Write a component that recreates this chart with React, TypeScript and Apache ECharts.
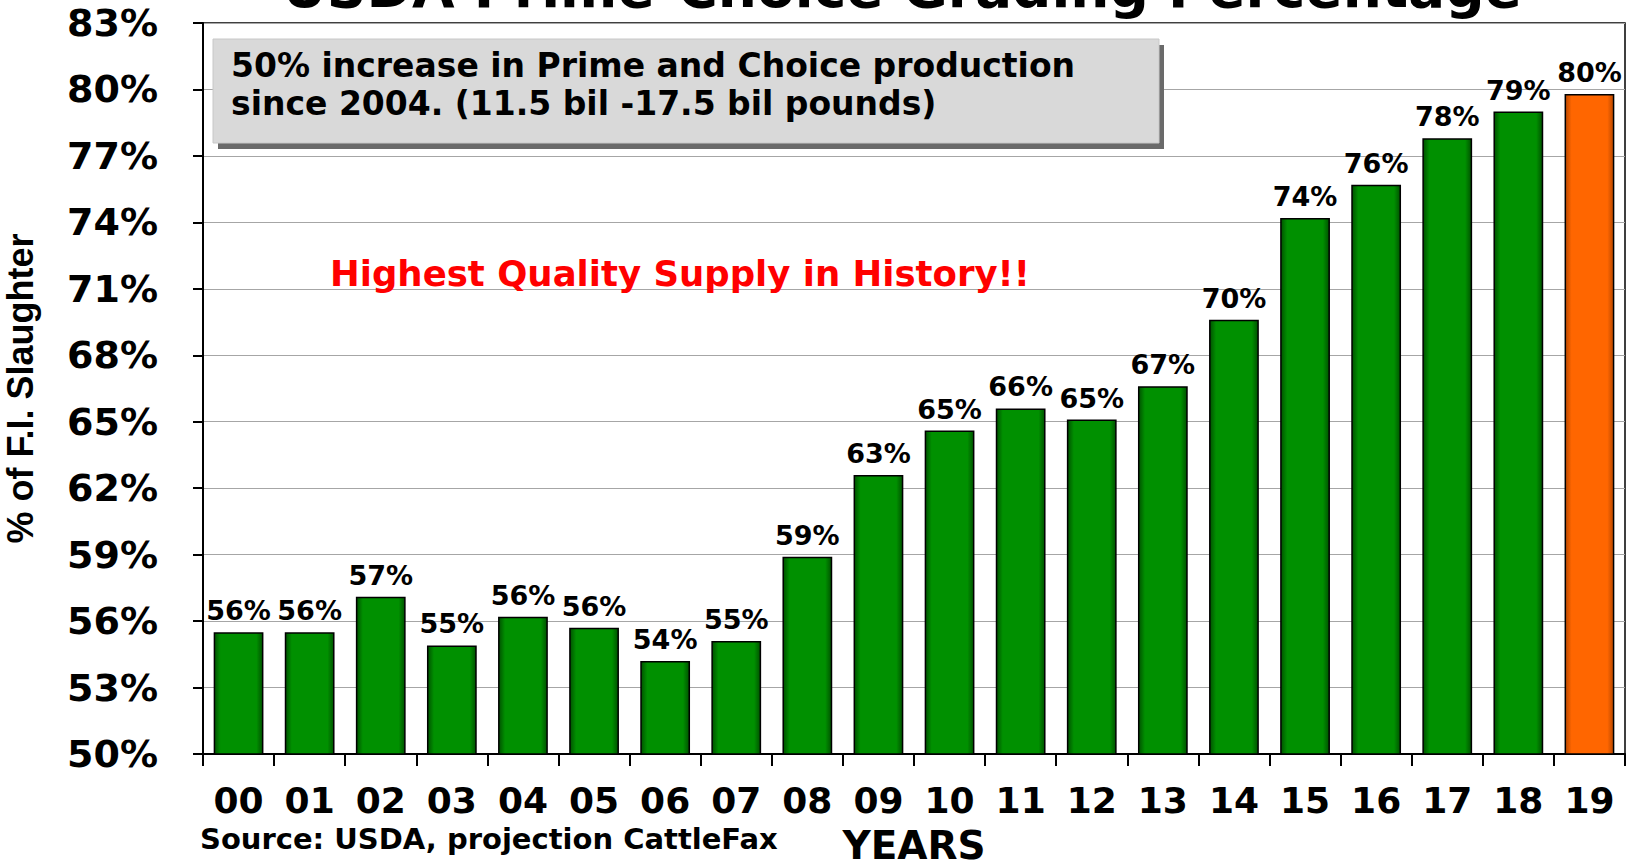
import React, { useEffect, useRef } from "react";
import * as echarts from "echarts";

const years = ["00", "01", "02", "03", "04", "05", "06", "07", "08", "09", "10", "11", "12", "13", "14", "15", "16", "17", "18", "19"];
const gradingPct = [55.5, 55.5, 57.1, 54.9, 56.2, 55.7, 54.2, 55.1, 58.9, 62.6, 64.6, 65.6, 65.1, 66.6, 69.6, 74.2, 75.7, 77.8, 79.0, 79.8];
const isProjection = [false, false, false, false, false, false, false, false, false, false, false, false, false, false, false, false, false, false, false, true];
const yMin = 50;
const yMax = 83;
const yStep = 3;

const titleText = "USDA Prime-Choice Grading Percentage";
const noteLines = ["50% increase in Prime and Choice production", "since 2004. (11.5 bil -17.5 bil pounds)"];
const highlightText = "Highest Quality Supply in History!!";
const sourceText = "Source: USDA, projection CattleFax";
const yAxisTitle = "% of F.I. Slaughter";
const xAxisTitle = "YEARS";

const FONT = "'DejaVu Sans', sans-serif";

function barFill(proj: boolean) {
  const edge = proj ? "#b84800" : "#005200";
  const mid = proj ? "#ff6600" : "#009000";
  return new echarts.graphic.LinearGradient(0, 0, 1, 0, [
    { offset: 0, color: edge },
    { offset: 0.13, color: mid },
    { offset: 0.87, color: mid },
    { offset: 1, color: edge },
  ]);
}

export default function App() {
  const ref = useRef<HTMLDivElement>(null);
  useEffect(() => {
    if (!ref.current) return;
    const chart = echarts.init(ref.current, null, { renderer: "svg" });
    chart.setOption({
      animation: false,
      backgroundColor: "#ffffff",
      grid: {
        left: 203,
        right: 5,
        top: 23,
        bottom: 114,
        outerBoundsMode: "none",
        containLabel: false,
        show: true,
        borderColor: "#000",
        borderWidth: 1.5,
        backgroundColor: "transparent",
      },
      xAxis: {
        type: "category",
        data: years,
        boundaryGap: true,
        axisLine: { lineStyle: { color: "#000", width: 2 } },
        axisTick: { show: true, length: 12, lineStyle: { color: "#000", width: 2 } },
        axisLabel: {
          color: "#000",
          fontFamily: FONT,
          fontWeight: "bold",
          fontSize: 36,
          margin: 28,
        },
        name: xAxisTitle,
        nameLocation: "middle",
        nameGap: 72,
        nameTextStyle: { color: "#000", fontFamily: FONT, fontWeight: "bold", fontSize: 39 },
      },
      yAxis: {
        type: "value",
        min: yMin,
        max: yMax,
        interval: yStep,
        axisLine: { show: true, lineStyle: { color: "#000", width: 2 } },
        axisTick: { show: true, length: 10, lineStyle: { color: "#000", width: 2 } },
        splitLine: { show: true, lineStyle: { color: "#a6a6a6", width: 1.2 } },
        axisLabel: {
          color: "#000",
          fontFamily: FONT,
          fontWeight: "bold",
          fontSize: 38,
          margin: 45,
          formatter: (v: number) => `${v}%`,
        },
        name: yAxisTitle,
        nameLocation: "middle",
        nameRotate: 90,
        nameGap: 165,
        nameTextStyle: { color: "#000", fontFamily: "'Liberation Sans', Arial, sans-serif", fontWeight: "bold", fontSize: 36 },
      },
      series: [
        {
          type: "bar",
          barWidth: "70%",
          data: gradingPct.map((v, i) => ({
            value: v,
            itemStyle: { color: barFill(isProjection[i]) },
          })),
          itemStyle: { borderColor: "#000", borderWidth: 1.5 },
          label: {
            show: true,
            position: "top",
            distance: 8,
            color: "#000",
            fontFamily: FONT,
            fontWeight: "bold",
            fontSize: 27,
            formatter: (p: any) => `${Math.round(p.value)}%`,
          },
        },
      ],
      graphic: [
        {
          type: "text",
          x: 902,
          y: -12,
          style: {
            text: titleText,
            fontFamily: FONT,
            fontWeight: "bold",
            fontSize: 55,
            fill: "#000",
            align: "center",
            verticalAlign: "middle",
          },
        },
        {
          type: "rect",
          shape: { x: 218, y: 45, width: 946, height: 104 },
          style: { fill: "#6a6a6a" },
          z: 10,
        },
        {
          type: "rect",
          shape: { x: 213, y: 39, width: 946, height: 104 },
          style: { fill: "#d9d9d9", stroke: "#c8c8c8", lineWidth: 1 },
          z: 11,
        },
        {
          type: "text",
          x: 231,
          y: 65,
          z: 12,
          style: {
            text: noteLines[0],
            fontFamily: FONT,
            fontWeight: "bold",
            fontSize: 33,
            fill: "#000",
            align: "left",
            verticalAlign: "middle",
          },
        },
        {
          type: "text",
          x: 231,
          y: 103,
          z: 12,
          style: {
            text: noteLines[1],
            fontFamily: FONT,
            fontWeight: "bold",
            fontSize: 33,
            fill: "#000",
            align: "left",
            verticalAlign: "middle",
          },
        },
        {
          type: "text",
          x: 680,
          y: 273,
          z: 12,
          style: {
            text: highlightText,
            fontFamily: FONT,
            fontWeight: "bold",
            fontSize: 35.5,
            fill: "#ff0000",
            align: "center",
            verticalAlign: "middle",
          },
        },
        {
          type: "text",
          x: 200,
          y: 839,
          z: 12,
          style: {
            text: sourceText,
            fontFamily: FONT,
            fontWeight: "bold",
            fontSize: 29,
            fill: "#000",
            align: "left",
            verticalAlign: "middle",
          },
        },
      ],
    });
    return () => chart.dispose();
  }, []);
  return (
    <div
      ref={ref}
      style={{ position: "absolute", left: 0, top: 0, width: 1630, height: 868, background: "#fff" }}
    />
  );
}
